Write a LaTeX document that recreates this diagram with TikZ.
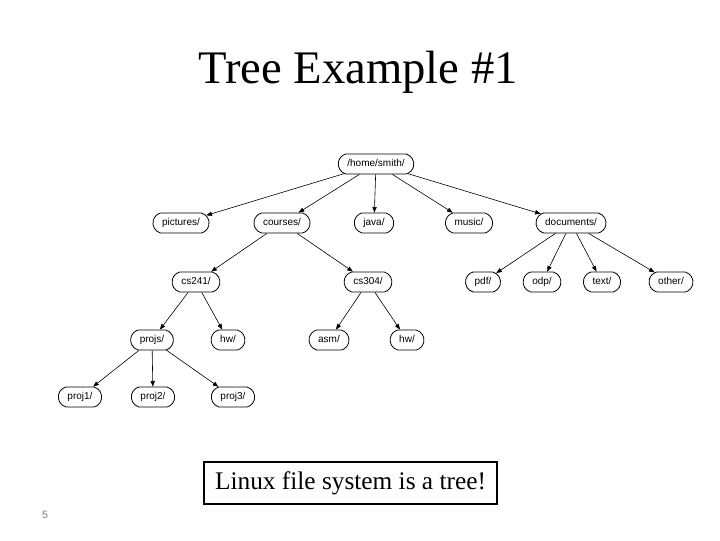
\documentclass[tikz,border=0pt]{standalone}
\usepackage{fontspec}
\setmainfont{Liberation Serif}
\setsansfont{Liberation Sans}
\usetikzlibrary{arrows.meta,shapes.misc}
\tikzset{
  dir/.style={draw=black, line width=0.6pt, rounded rectangle, rounded rectangle arc length=150, minimum height=15pt, inner xsep=6pt, inner ysep=0pt, text height=5.6pt, text depth=1.6pt, font=\sffamily\fontsize{7.5}{9}\selectfont},
  edge/.style={-{Triangle[length=4.2pt,width=3.2pt]}, line width=0.45pt}
}
\begin{document}
\begin{tikzpicture}[x=0.75pt,y=-0.75pt]
\useasboundingbox (0,0) rectangle (720,540);
\node[anchor=base] (title) at (358,83) {\fontsize{35}{40}\selectfont Tree Example \#1};
\node[dir] (home) at (376,164) {/home/smith/};
\node[dir] (pictures) at (181,223) {pictures/};
\node[dir] (courses) at (282,223) {courses/};
\node[dir] (java) at (374,223) {java/};
\node[dir] (music) at (469,223) {music/};
\node[dir] (documents) at (571,223) {documents/};
\node[dir] (cs241) at (196,282) {cs241/};
\node[dir] (cs304) at (368,282) {cs304/};
\node[dir] (pdf) at (483,282) {pdf/};
\node[dir] (odp) at (542,282) {odp/};
\node[dir] (text) at (602,282) {text/};
\node[dir] (other) at (671,282) {other/};
\node[dir] (projs) at (152,340) {projs/};
\node[dir] (hwa) at (228,340) {hw/};
\node[dir] (asm) at (329,340) {asm/};
\node[dir] (hwb) at (407,340) {hw/};
\node[dir] (proj1) at (80,397) {proj1/};
\node[dir] (proj2) at (153,397) {proj2/};
\node[dir] (proj3) at (233,397) {proj3/};
\foreach \a/\b in {home/pictures,home/courses,home/java,home/music,home/documents,
  courses/cs241,courses/cs304,documents/pdf,documents/odp,documents/text,documents/other,
  cs241/projs,cs241/hwa,cs304/asm,cs304/hwb,projs/proj1,projs/proj2,projs/proj3}
  \draw[edge] (\a) -- (\b);
\node[draw, line width=1pt, minimum width=293*0.75pt, minimum height=42*0.75pt, inner sep=0pt] (note) at (350.5,483) {\fontsize{19}{22}\selectfont Linux file system is a tree!};
\node[text=gray, font=\sffamily\fontsize{8}{10}\selectfont] (pg) at (45,515) {5};
\end{tikzpicture}
\end{document}
